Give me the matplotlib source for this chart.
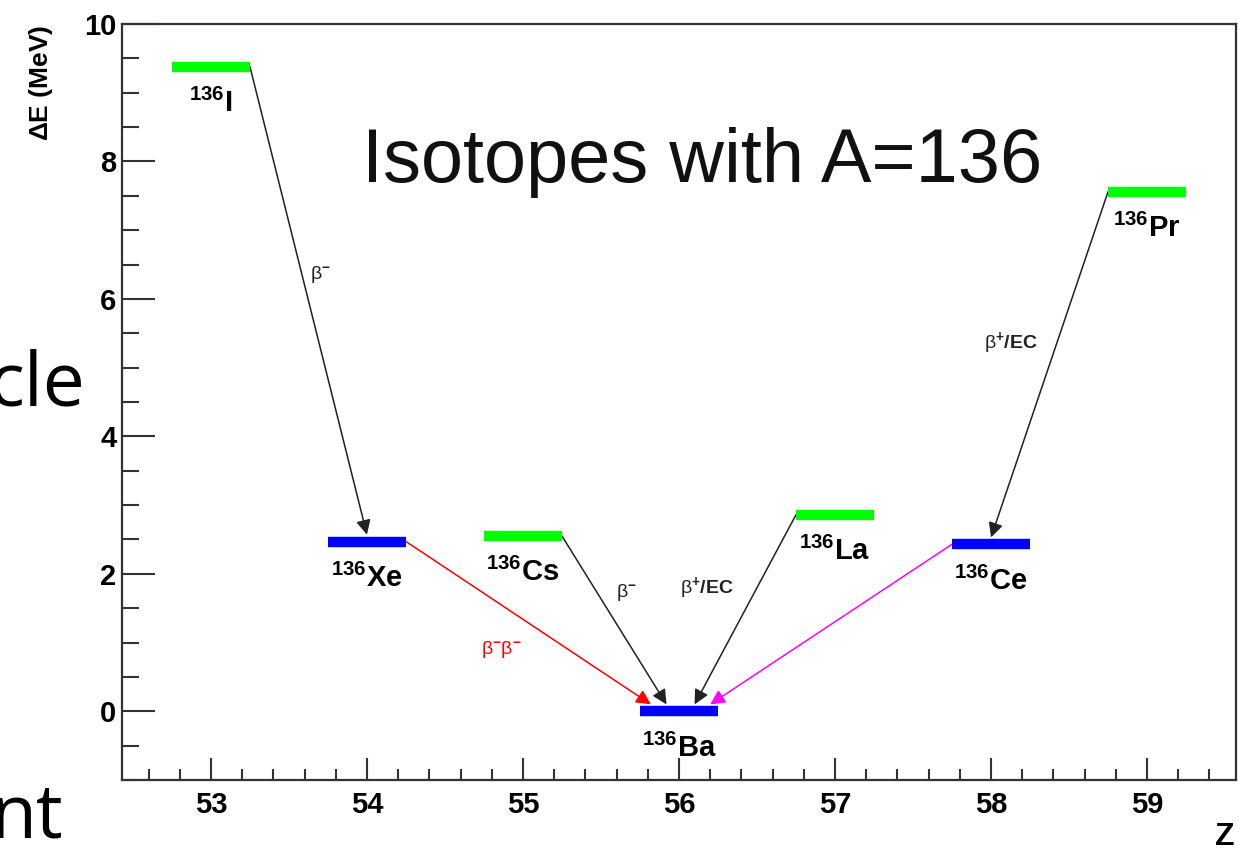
import matplotlib
matplotlib.use("Agg")
import matplotlib.pyplot as plt
from matplotlib.ticker import MultipleLocator

plt.rcParams["font.family"] = ["Liberation Sans", "DejaVu Sans"]
plt.rcParams["mathtext.fontset"] = "custom"
plt.rcParams["mathtext.rm"] = "Liberation Sans"
plt.rcParams["mathtext.it"] = "Liberation Sans:italic"
plt.rcParams["mathtext.bf"] = "Liberation Sans:bold"
plt.rcParams["mathtext.default"] = "regular"

# ------------------------------------------------------------
# data: A=136 isobars, energy relative to 136Ba (MeV)
# ------------------------------------------------------------
Z = [53, 54, 55, 56, 57, 58, 59]
nuclides = ["I", "Xe", "Cs", "Ba", "La", "Ce", "Pr"]
dE = [9.38, 2.47, 2.55, 0.0, 2.86, 2.43, 7.56]
even_even = [False, True, False, True, False, True, False]

# decays: from -> to
dec_from = ["I", "Xe", "Cs", "La", "Pr", "Ce"]
dec_to = ["Xe", "Ba", "Ba", "Ba", "Ce", "Ba"]
dec_label = [r"$\mathrm{\beta}^{-}$", r"$\mathrm{\beta}^{-}\mathrm{\beta}^{-}$",
             r"$\mathrm{\beta}^{-}$", r"$\mathrm{\beta}^{+}$/EC",
             r"$\mathrm{\beta}^{+}$/EC", ""]
dec_color = ["#222222", "#ff0000", "#222222", "#222222", "#222222", "#ff00ff"]
lab_x = [53.70, 54.86, 55.66, 56.18, 58.13, None]
lab_y = [6.35, 0.90, 1.73, 1.80, 5.36, None]
tip_dx = [0.0, -0.18, -0.08, 0.10, 0.0, 0.20]

GREEN = "#00ff00"
BLUE = "#0000ff"
AXC = "#333333"

fig = plt.figure(figsize=(12.39, 8.51), dpi=100, facecolor="white")
ax = fig.add_axes([122 / 1239, 71 / 851, 1114 / 1239, 756 / 851])

zpos = dict(zip(nuclides, Z))
epos = dict(zip(nuclides, dE))

# arrows first, levels on top
for f, t, lab, c, lx, ly, dx in zip(dec_from, dec_to, dec_label, dec_color,
                                    lab_x, lab_y, tip_dx):
    side = 0.25 if zpos[t] > zpos[f] else -0.25
    x0, y0 = zpos[f] + side, epos[f]
    x1, y1 = zpos[t] + dx, epos[t] + 0.1
    ax.annotate("", xy=(x1, y1), xytext=(x0, y0),
                arrowprops=dict(arrowstyle="-|>", color=c, lw=1.1,
                                mutation_scale=22, shrinkA=0, shrinkB=0))
    if lab:
        ax.text(lx, ly, lab, color=c, fontsize=14, fontweight="bold",
                ha="center", va="center")

for z, n, e, ee in zip(Z, nuclides, dE, even_even):
    ax.hlines(e, z - 0.25, z + 0.25, color=BLUE if ee else GREEN, lw=7.5, zorder=3)
    ax.text(z, e - 0.66, r"$^{136}$" + n, fontsize=21, fontweight="bold",
            ha="center", va="baseline")

ax.set_xlim(52.43, 59.57)
ax.set_ylim(-1, 10)
ax.xaxis.set_major_locator(MultipleLocator(1))
ax.xaxis.set_minor_locator(MultipleLocator(0.2))
ax.yaxis.set_major_locator(MultipleLocator(2))
ax.yaxis.set_minor_locator(MultipleLocator(0.5))
ax.tick_params(which="both", direction="in", colors=AXC, width=1.5,
               top=False, right=False, labelcolor="black")
ax.tick_params(axis="x", which="major", length=16, pad=8, labelsize=21)
ax.tick_params(axis="x", which="minor", length=8)
ax.tick_params(axis="y", which="major", length=24, pad=4, labelsize=21)
ax.tick_params(axis="y", which="minor", length=12)
for lbl in ax.get_xticklabels() + ax.get_yticklabels():
    lbl.set_fontweight("bold")
for s in ax.spines.values():
    s.set_color(AXC)
    s.set_linewidth(1.6)

fig.text(41 / 1239, 1 - 25 / 851, r"$\Delta$E (MeV)", rotation=90,
         fontsize=19, fontweight="bold", ha="center", va="top")
fig.text(1235 / 1239, 6 / 851, "Z", fontsize=23, fontweight="bold",
         ha="right", va="baseline")

# slide overlay
fig.text(362 / 1239, 1 - 182 / 851, "Isotopes with A=136", fontsize=54.5,
         ha="left", va="baseline", color="#111111")
fig.text(86 / 1239, 1 - 405 / 851, "cle", fontsize=54, family="Open Sans",
         ha="right", va="baseline")
fig.text(63 / 1239, 1 - 837 / 851, "nt", fontsize=54, family="Open Sans",
         ha="right", va="baseline")

fig.savefig("out.png", dpi=100, facecolor="white")
